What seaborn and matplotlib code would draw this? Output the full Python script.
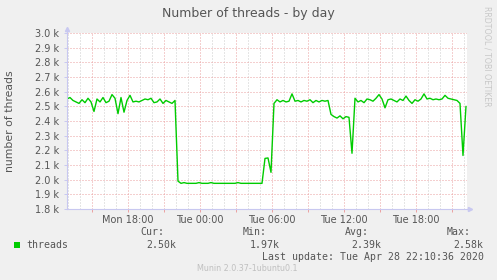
import matplotlib
matplotlib.use("Agg")
import matplotlib.pyplot as plt
import matplotlib.dates as mdates
import matplotlib.ticker as mticker
from matplotlib.patches import Rectangle
from matplotlib.lines import Line2D
import pandas as pd
import seaborn as sns

# ---------------- data ----------------
start_time = "2020-04-27 12:55"
end_time = "2020-04-28 22:15"
sample_freq = "15min"

threads = [
    # Mon afternoon / evening
    2550, 2560, 2540, 2530, 2520, 2545, 2525, 2555, 2530, 2465,
    2550, 2530, 2560, 2525, 2535, 2580, 2555, 2450, 2560, 2460,
    2540, 2575, 2530, 2535, 2530, 2540, 2550, 2545, 2555, 2525,
    2530, 2550, 2520, 2540, 2530, 2520, 2540,
    # night plateau
    1990, 1975, 1980, 1975, 1975, 1975, 1975, 1980, 1975, 1975,
    1975, 1980, 1975, 1975, 1975, 1975, 1975, 1975, 1975, 1975,
    1980, 1975, 1975, 1975, 1975, 1975, 1975, 1975, 1975,
    # step back up
    2145, 2148, 2050,
    # Tue morning
    2520, 2545, 2530, 2540, 2530, 2535, 2585, 2535, 2540, 2530,
    2540, 2535, 2545, 2525, 2540, 2530, 2540, 2535, 2540, 2445,
    2430, 2420, 2435, 2415, 2430, 2425,
    2180,
    # Tue afternoon / evening
    2555, 2530, 2540, 2525, 2550, 2545, 2535, 2555, 2580, 2550,
    2490, 2545, 2550, 2540, 2530, 2550, 2540, 2570, 2540, 2520,
    2545, 2535, 2550, 2585, 2550, 2555, 2545, 2550, 2545, 2550,
    2575, 2555, 2550, 2545, 2540, 2520, 2165, 2500,
]

y_min, y_max, y_step = 1800, 3000, 100
legend_heads = ["Cur:", "Min:", "Avg:", "Max:"]
legend_values = ["2.50k", "1.97k", "2.39k", "2.58k"]
series_name = "threads"
title = "Number of threads - by day"
y_label = "number of threads"
last_update = "Last update: Tue Apr 28 22:10:36 2020"
footer = "Munin 2.0.37-1ubuntu0.1"
side_text = "RRDTOOL / TOBI OETIKER"

times = pd.date_range(start_time, periods=len(threads), freq=sample_freq)
df = pd.DataFrame({"time": times, "threads": threads})

# ---------------- style ----------------
sns.set_theme(style="white")
plt.rcParams["font.family"] = ["DejaVu Sans"]

W, H = 497, 280
BG = "#F0F0F0"
GREEN = "#00CC00"
AXIS = "#C8C8F0"
MAJOR = "#EBA0A0"
MINOR = "#CCCCCC"
TXT = "#555555"

fig = plt.figure(figsize=(W / 100, H / 100), dpi=100, facecolor=BG)
ax = fig.add_axes([67 / W, 71 / H, 400 / W, 176 / H])
ax.set_facecolor("white")

sns.lineplot(data=df, x="time", y="threads", ax=ax, color=GREEN,
             linewidth=1.0, legend=False)

ax.set_xlim(pd.Timestamp(start_time), pd.Timestamp(end_time))
ax.set_ylim(y_min, y_max)
ax.set_xlabel("")
ax.set_ylabel("")

# x axis: major every 3h (labels every 6h), minor every hour
ax.xaxis.set_major_locator(mdates.HourLocator(byhour=range(0, 24, 3)))
ax.xaxis.set_minor_locator(mdates.HourLocator())


def fmt_x(v, pos):
    d = mdates.num2date(v)
    return d.strftime("%a %H:%M") if d.hour % 6 == 0 else ""


ax.xaxis.set_major_formatter(mticker.FuncFormatter(fmt_x))
ax.yaxis.set_major_locator(mticker.MultipleLocator(y_step))
ax.yaxis.set_major_formatter(mticker.FuncFormatter(lambda v, p: f"{v / 1000:.1f} k"))

ax.grid(which="minor", axis="x", color=MINOR, linestyle=(0, (1, 2)), linewidth=0.72)
ax.grid(which="major", axis="both", color=MAJOR, linestyle=(0, (1, 2)), linewidth=0.72)
ax.set_axisbelow(True)

ax.tick_params(axis="x", which="major", length=2.5, width=0.7, color=MAJOR,
               labelsize=7, labelcolor=TXT, pad=1.5, direction="out", bottom=True)
ax.tick_params(axis="x", which="minor", length=0, bottom=False)
ax.tick_params(axis="y", which="major", length=2, width=0.7, color=AXIS,
               labelsize=7, labelcolor=TXT, pad=3.5, direction="out", left=True)

for s in ["top", "right"]:
    ax.spines[s].set_visible(False)
for s in ["left", "bottom"]:
    ax.spines[s].set_color(AXIS)
    ax.spines[s].set_linewidth(0.8)

# axis arrows
ax.add_line(Line2D([0, 0], [1, 1.025], transform=ax.transAxes, color=AXIS,
                   linewidth=0.8, clip_on=False))
ax.add_line(Line2D([1, 1.008], [0, 0], transform=ax.transAxes, color=AXIS,
                   linewidth=0.8, clip_on=False))
ax.plot([0], [1.025], marker="^", markersize=3, color=AXIS, transform=ax.transAxes,
        clip_on=False)
ax.plot([1.008], [0], marker=">", markersize=3, color=AXIS, transform=ax.transAxes,
        clip_on=False)


def fx(px):
    return px / W


def fy(py):
    return 1 - py / H


fig.text(0.5, fy(13), title, ha="center", va="center", fontsize=9, color=TXT)
fig.text(fx(10), fy(121), y_label, ha="center", va="center", rotation=90,
         fontsize=7.8, color=TXT)
fig.text(fx(487), fy(56), side_text, ha="center", va="center", rotation=270,
         fontsize=5.7, color="#C8C8C8")

mono = "DejaVu Sans Mono"
LEG = "#555555"
head_x = [140, 243, 345, 447]
val_x = [146.7, 250, 351, 453]
for hx, h in zip(head_x, legend_heads):
    fig.text(fx(hx), fy(232), h, ha="left", va="center", fontsize=7.1,
             family=mono, color=LEG)
for vx, v in zip(val_x, legend_values):
    fig.text(fx(vx), fy(245), v, ha="left", va="center", fontsize=7.1,
             family=mono, color=LEG)

fig.patches.append(Rectangle((fx(14), fy(248)), 6 / W, 6 / H, transform=fig.transFigure,
                             facecolor=GREEN, edgecolor="none"))
fig.text(fx(26), fy(245), series_name, ha="left", va="center", fontsize=7.1,
         family=mono, color=LEG)
fig.text(fx(261.7), fy(256.7), last_update, ha="left", va="center", fontsize=7.1,
         family=mono, color=LEG)
fig.text(fx(247.5), fy(268.7), footer, ha="center", va="center", fontsize=5.8,
         color="#C0C0C0")

fig.savefig("out.png", dpi=100, facecolor=BG)
